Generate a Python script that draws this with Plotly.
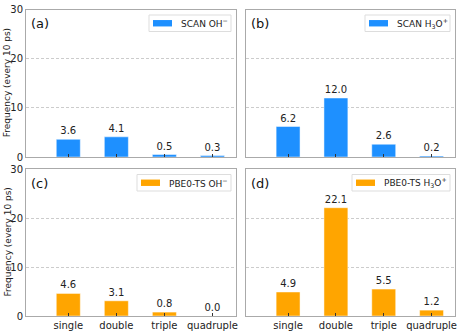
import plotly.graph_objects as go

categories = ["single", "double", "triple", "quadruple"]
scan_oh = [3.6, 4.1, 0.5, 0.3]
scan_h3o = [6.2, 12.0, 2.6, 0.2]
pbe0_oh = [4.6, 3.1, 0.8, 0.0]
pbe0_h3o = [4.9, 22.1, 5.5, 1.2]
panel_labels = ["(a)", "(b)", "(c)", "(d)"]
series_names = ["SCAN OH<sup>−</sup>", "SCAN H<sub>3</sub>O<sup>+</sup>",
                "PBE0-TS OH<sup>−</sup>", "PBE0-TS H<sub>3</sub>O<sup>+</sup>"]
yticks = [0, 10, 20, 30]
ylabel = "Frequency (every 10 ps)"

W, H = 463, 333
BLUE = "#1E90FF"
ORANGE = "#FFA500"
FONT = "DejaVu Sans"

def px_x(v):
    return v / W

def px_y(v):
    return 1 - v / H

# panel pixel boxes (left, right, top, bottom)
xpix = [(26, 236), (246, 455)]
ypix = [(9.5, 157), (169, 316)]
legend_left = [149, 365, 137, 352]

fig = go.Figure()
data = [scan_oh, scan_h3o, pbe0_oh, pbe0_h3o]
colors = [BLUE, BLUE, ORANGE, ORANGE]

for i in range(4):
    r, c = divmod(i, 2)
    ax = "" if i == 0 else str(i + 1)
    L, R = xpix[c]
    T, B = ypix[r]
    fig.add_trace(go.Bar(
        x=categories, y=data[i], name=series_names[i],
        marker=dict(color=colors[i], line=dict(color="rgba(255,255,255,0.6)", width=0.8)),
        width=0.5,
        texttemplate="%{y:.1f}", textposition="outside",
        textfont=dict(family=FONT, size=10, color="#222"),
        cliponaxis=False, showlegend=False,
        xaxis="x" + ax, yaxis="y" + ax,
    ))
    fig.layout["xaxis" + ax] = dict(
        domain=[px_x(L), px_x(R)], anchor="y" + ax, type="category", automargin=False,
        range=[-0.88, 3.49], showline=True, mirror=True, linecolor="#aaaaaa", linewidth=1,
        ticks="inside", ticklen=3, tickcolor="#333", showgrid=False,
        showticklabels=(r == 1), tickfont=dict(family=FONT, size=10, color="#222"),
    )
    fig.layout["yaxis" + ax] = dict(
        domain=[px_y(B), px_y(T)], anchor="x" + ax, range=[0, 30], tickvals=yticks,
        automargin=False,
        showline=True, mirror=True, linecolor="#aaaaaa", linewidth=1,
        showgrid=True, gridcolor="#cccccc", griddash="3px,2px", gridwidth=0.8,
        zeroline=False, ticks="", showticklabels=(c == 0),
        tickfont=dict(family=FONT, size=10, color="#222"),
    )
    # legend box drawn by hand (matplotlib-like)
    bl = legend_left[i]
    br = R - 5
    bt = T + 5.5
    bb = bt + 16.5
    cy = (bt + bb) / 2
    fig.add_shape(type="rect", xref="paper", yref="paper",
                  x0=px_x(bl), x1=px_x(br), y0=px_y(bb), y1=px_y(bt),
                  fillcolor="rgba(255,255,255,0.85)", line=dict(color="#dddddd", width=1),
                  layer="above")
    fig.add_shape(type="rect", xref="paper", yref="paper",
                  x0=px_x(bl + 4), x1=px_x(bl + 23), y0=px_y(cy + 3.2), y1=px_y(cy - 3.2),
                  fillcolor=colors[i], line=dict(width=0), layer="above")
    fig.add_annotation(
        x=px_x(bl + 30), y=px_y(cy), xref="paper", yref="paper",
        xanchor="left", yanchor="middle", text=series_names[i], showarrow=False,
        font=dict(family=FONT, size=9, color="#222"),
    )
    fig.add_annotation(
        x=px_x(L + 3), y=px_y(T + 5), xref="paper", yref="paper",
        xanchor="left", yanchor="top", text=panel_labels[i], showarrow=False,
        font=dict(family=FONT, size=13, color="#111"),
    )
    if c == 0:
        fig.add_annotation(
            x=px_x(7), y=px_y((T + B) / 2), xref="paper", yref="paper",
            xanchor="center", yanchor="middle",
            text=ylabel, textangle=-90, showarrow=False,
            font=dict(family=FONT, size=9, color="#222"),
        )

fig.update_layout(
    width=W, height=H, margin=dict(l=0, r=0, t=0, b=0, autoexpand=False),
    paper_bgcolor="white", plot_bgcolor="white", bargap=0.5,
    font=dict(family=FONT), showlegend=False,
)
fig.write_html("out.html", config={"displayModeBar": False},
               post_script="document.body.style.margin='0px';")
